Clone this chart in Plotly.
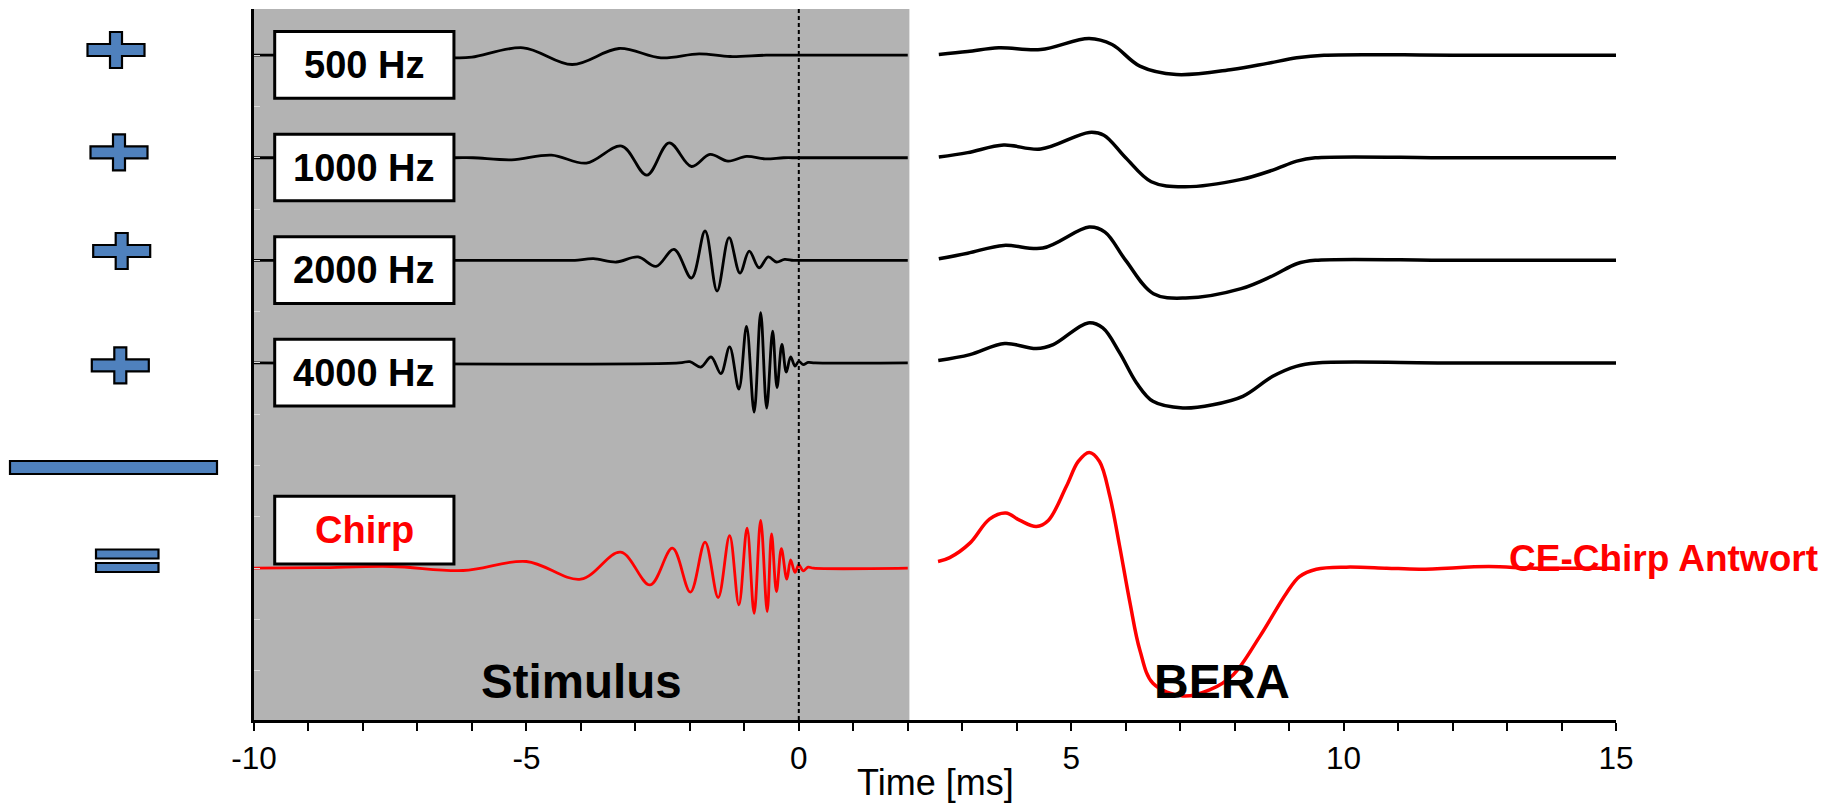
import plotly.graph_objects as go

# ---------------- data ----------------
channel_names = ["500 Hz", "1000 Hz", "2000 Hz", "4000 Hz", "Chirp"]
channel_offsets = [6, 5, 4, 3, 1]

stim_500_x = [-10, -6.6, -6.29, -6.0, -5.06, -4.16, -3.30, -2.53, -1.83, -1.26, -0.6, 0, 2.0]
stim_500_y = [0, -0.01, -0.026, -0.02, 0.072, -0.091, 0.065, -0.026, 0.013, -0.013, 0, 0, 0]

stim_1000_x = [-10, -6.32, -5.98, -5.27, -4.54, -3.90, -3.25, -2.79, -2.38, -1.97, -1.63, -1.30,
               -0.96, -0.62, -0.28, 0, 2.0]
stim_1000_y = [0, 0, 0, -0.02, 0.026, -0.052, 0.114, -0.169, 0.146, -0.085, 0.033, -0.033,
               0.013, -0.01, 0, 0, 0]

stim_2000_x = [-10, -4.39, -4.11, -3.77, -3.35, -2.95, -2.62, -2.29, -1.97, -1.72, -1.50, -1.28,
               -1.08, -0.91, -0.73, -0.56, -0.41, -0.26, -0.10, 0.1, 2.0]
stim_2000_y = [0, 0, 0, 0.016, -0.016, 0.033, -0.059, 0.107, -0.172, 0.286, -0.299, 0.221,
               -0.124, 0.091, -0.072, 0.033, -0.016, 0.01, 0, 0, 0]

stim_4000_x = [-10, -2.2, -2.0, -1.80, -1.61, -1.43, -1.27, -1.10, -0.96, -0.82, -0.70, -0.59,
               -0.48, -0.40, -0.31, -0.23, -0.15, -0.07, 0.0, 0.08, 0.17, 0.3, 2.0]
stim_4000_y = [0, 0, 0.013, -0.04, 0.058, -0.104, 0.156, -0.254, 0.357, -0.48, 0.49, -0.44,
               0.31, -0.24, 0.18, -0.09, 0.06, -0.03, 0.016, -0.016, 0.005, 0, 0]

stim_chirp_x = [-10, -8.8, -7.47, -6.16, -5.0, -4.0, -3.27, -2.73, -2.32, -1.99, -1.72, -1.48,
                -1.27, -1.10, -0.95, -0.82, -0.70, -0.58, -0.50, -0.41, -0.32, -0.22, -0.15,
                -0.07, 0.0, 0.08, 0.17, 0.27, 2.0]
stim_chirp_y = [0, 0.005, 0.016, -0.023, 0.065, -0.107, 0.156, -0.163, 0.195, -0.234, 0.254, -0.286,
                0.316, -0.358, 0.39, -0.44, 0.465, -0.423, 0.335, -0.228, 0.189, -0.107, 0.081,
                -0.042, 0.033, -0.026, 0.01, 0, 0]

bera_500_x = [2.57, 3.1, 3.67, 4.44, 5.33, 5.75, 6.26, 6.93, 7.95, 8.6, 9.14, 9.64, 12.0, 15.0]
bera_500_y = [0.007, 0.035, 0.072, 0.055, 0.163, 0.104, -0.107, -0.189, -0.14, -0.08, -0.026, 0, 0, 0]

bera_1000_x = [2.57, 3.1, 3.76, 4.44, 5.33, 5.60, 6.0, 6.47, 7.06, 8.12, 8.7, 9.14, 9.48, 12, 15]
bera_1000_y = [0.007, 0.05, 0.124, 0.085, 0.247, 0.22, 0.0, -0.234, -0.283, -0.211, -0.12, -0.033, 0, 0, 0]

bera_2000_x = [2.57, 3.1, 3.76, 4.48, 5.33, 5.62, 6.0, 6.51, 7.10, 8.12, 8.7, 9.14, 9.48, 12, 15]
bera_2000_y = [0.016, 0.07, 0.146, 0.12, 0.325, 0.276, 0.0, -0.325, -0.367, -0.276, -0.15, -0.033, 0, 0, 0]

bera_4000_x = [2.56, 3.14, 3.78, 4.36, 4.67, 5.31, 5.58, 5.89, 6.20, 6.50, 7.05, 7.60, 8.15, 8.70,
               9.13, 9.50, 12, 15]
bera_4000_y = [0.023, 0.081, 0.189, 0.14, 0.179, 0.39, 0.341, 0.098, -0.195, -0.374, -0.439, -0.407,
               -0.325, -0.13, -0.033, 0, 0, 0]

bera_chirp_x = [2.556, 2.77, 3.14, 3.50, 3.80, 4.06, 4.36, 4.58, 4.91, 5.13, 5.33, 5.52, 5.71, 5.89,
                6.08, 6.26, 6.50, 7.05, 7.54, 7.97, 8.46, 8.95, 9.19, 9.50, 10.05, 10.79, 11.4,
                12.66, 13.5, 15]
bera_chirp_y = [0.065, 0.103, 0.244, 0.478, 0.537, 0.465, 0.406, 0.465, 0.796, 1.04, 1.128, 1.04,
                0.699, 0.211, -0.341, -0.797, -1.122, -1.246, -1.187, -1.041, -0.667, -0.244,
                -0.082, -0.01, 0.01, 0, -0.01, 0.015, 0, 0]

x_tick_values = list(range(-10, 16))
x_tick_labels = [str(v) if v % 5 == 0 else "" for v in x_tick_values]
x_title = "Time [ms]"

stim_series = [(stim_500_x, stim_500_y), (stim_1000_x, stim_1000_y), (stim_2000_x, stim_2000_y),
               (stim_4000_x, stim_4000_y), (stim_chirp_x, stim_chirp_y)]
bera_series = [(bera_500_x, bera_500_y), (bera_1000_x, bera_1000_y), (bera_2000_x, bera_2000_y),
               (bera_4000_x, bera_4000_y), (bera_chirp_x, bera_chirp_y)]

# ---------------- figure ----------------
W, H = 1826, 805
ML, MR, MT, MB = 254, 210, 9, 85
PW, PH = W - ML - MR, H - MT - MB
YMIN, YMAX = -0.48, 6.45
FONT = "Liberation Sans, Arial, sans-serif"
BLUE = "#4F81BD"

fig = go.Figure()

for i, name in enumerate(channel_names):
    off = channel_offsets[i]
    color = "red" if name == "Chirp" else "black"
    sx, sy = stim_series[i]
    bx, by = bera_series[i]
    fig.add_trace(go.Scatter(x=sx, y=[v + off for v in sy], mode="lines",
                             line=dict(color=color, width=2.8, shape="spline", smoothing=1.0),
                             showlegend=False, hoverinfo="skip"))
    fig.add_trace(go.Scatter(x=bx, y=[v + off for v in by], mode="lines",
                             line=dict(color=color, width=3.5, shape="spline", smoothing=1.0),
                             showlegend=False, hoverinfo="skip"))

shapes = []
# gray stimulus background
shapes.append(dict(type="rect", xref="x", yref="y", x0=-10, x1=2.03, y0=YMIN, y1=YMAX,
                   fillcolor="#b3b3b3", line=dict(width=0), layer="below"))
# dashed zero line
shapes.append(dict(type="line", xref="x", yref="y", x0=0, x1=0, y0=YMIN, y1=YMAX,
                   line=dict(color="black", width=2, dash="4px,3px"), layer="above"))

# label boxes
annotations = []
for i, name in enumerate(channel_names):
    off = channel_offsets[i]
    if name == "Chirp":
        y0, y1 = off + 0.04, off + 0.70
    else:
        y0, y1 = off - 0.42, off + 0.23
    shapes.append(dict(type="rect", xref="x", yref="y", x0=-9.62, x1=-6.33, y0=y0, y1=y1,
                       fillcolor="white", line=dict(color="black", width=3), layer="above"))
    annotations.append(dict(x=-7.975, y=(y0 + y1) / 2, xref="x", yref="y", text=f"<b>{name}</b>",
                            showarrow=False, xanchor="center", yanchor="middle",
                            font=dict(family=FONT, size=38, color="red" if name == "Chirp" else "black")))

annotations.append(dict(x=-3.98, y=-0.10, xref="x", yref="y", text="<b>Stimulus</b>", showarrow=False,
                        xanchor="center", yanchor="middle", font=dict(family=FONT, size=47.5, color="black")))
annotations.append(dict(x=7.77, y=-0.10, xref="x", yref="y", text="<b>BERA</b>", showarrow=False,
                        xanchor="center", yanchor="middle", font=dict(family=FONT, size=48, color="black")))
annotations.append(dict(x=13.0, y=1.09, xref="x", yref="y", text="<b>CE-Chirp Antwort</b>", showarrow=False,
                        xanchor="left", yanchor="middle", font=dict(family=FONT, size=37, color="red")))
# x-axis title as an annotation (placed below the tick labels, kept inside the page)
annotations.append(dict(x=0.5, y=(H - MB - (H - 1)) / PH, xref="paper", yref="paper", text=x_title,
                        showarrow=False, xanchor="center", yanchor="bottom", borderpad=0,
                        font=dict(family=FONT, size=36, color="black")))


# decorative +, -, = symbols on the left (pixel positions -> paper)
def px(xp):
    return (xp - ML) / PW


def py(yp):
    return (H - MB - yp) / PH


def rect_path(x0, y0, x1, y1):
    return f"M{px(x0)},{py(y0)} L{px(x1)},{py(y0)} L{px(x1)},{py(y1)} L{px(x0)},{py(y1)} Z"


def cross_path(cx, cy, w=57, h=36, t=12):
    pts = [(cx - w / 2, cy - t / 2), (cx - t / 2, cy - t / 2), (cx - t / 2, cy - h / 2),
           (cx + t / 2, cy - h / 2), (cx + t / 2, cy - t / 2), (cx + w / 2, cy - t / 2),
           (cx + w / 2, cy + t / 2), (cx + t / 2, cy + t / 2), (cx + t / 2, cy + h / 2),
           (cx - t / 2, cy + h / 2), (cx - t / 2, cy + t / 2), (cx - w / 2, cy + t / 2)]
    return "M" + " L".join(f"{px(a)},{py(b)}" for a, b in pts) + " Z"


for cx, cy in [(116, 50), (119, 152.3), (121.7, 251), (120.3, 365.3)]:
    shapes.append(dict(type="path", xref="paper", yref="paper", path=cross_path(cx, cy),
                       fillcolor=BLUE, line=dict(color="black", width=2.2), layer="above"))
shapes.append(dict(type="path", xref="paper", yref="paper", path=rect_path(10, 461, 217, 474),
                   fillcolor=BLUE, line=dict(color="black", width=2.2), layer="above"))
shapes.append(dict(type="path", xref="paper", yref="paper", path=rect_path(96, 549.5, 158.5, 558.5),
                   fillcolor=BLUE, line=dict(color="black", width=2.2), layer="above"))
shapes.append(dict(type="path", xref="paper", yref="paper", path=rect_path(96, 563, 158.5, 572),
                   fillcolor=BLUE, line=dict(color="black", width=2.2), layer="above"))

fig.update_layout(
    template="none",
    width=W, height=H,
    margin=dict(l=ML, r=MR, t=MT, b=MB, pad=0, autoexpand=False),
    paper_bgcolor="white", plot_bgcolor="white",
    shapes=shapes, annotations=annotations,
    font=dict(family=FONT, color="black"),
    xaxis=dict(range=[-10, 15], showgrid=False, zeroline=False, showline=True, linecolor="black",
               linewidth=3, ticks="outside", ticklen=8, tickwidth=2, tickcolor="black",
               tickvals=x_tick_values, ticktext=x_tick_labels, ticklabelstandoff=0,
               automargin=False,
               tickfont=dict(family=FONT, size=31.5, color="black")),
    yaxis=dict(range=[YMIN, YMAX], showgrid=False, zeroline=False, showline=True, linecolor="black",
               linewidth=3, ticks="inside", ticklen=6, tickwidth=1, tickcolor="#d9d9d9",
               tick0=0, dtick=0.5, showticklabels=False, automargin=False),
)

fig.write_html("out.html", config={"displayModeBar": False},
               post_script="document.body.style.margin='0';document.body.style.overflow='hidden';")
